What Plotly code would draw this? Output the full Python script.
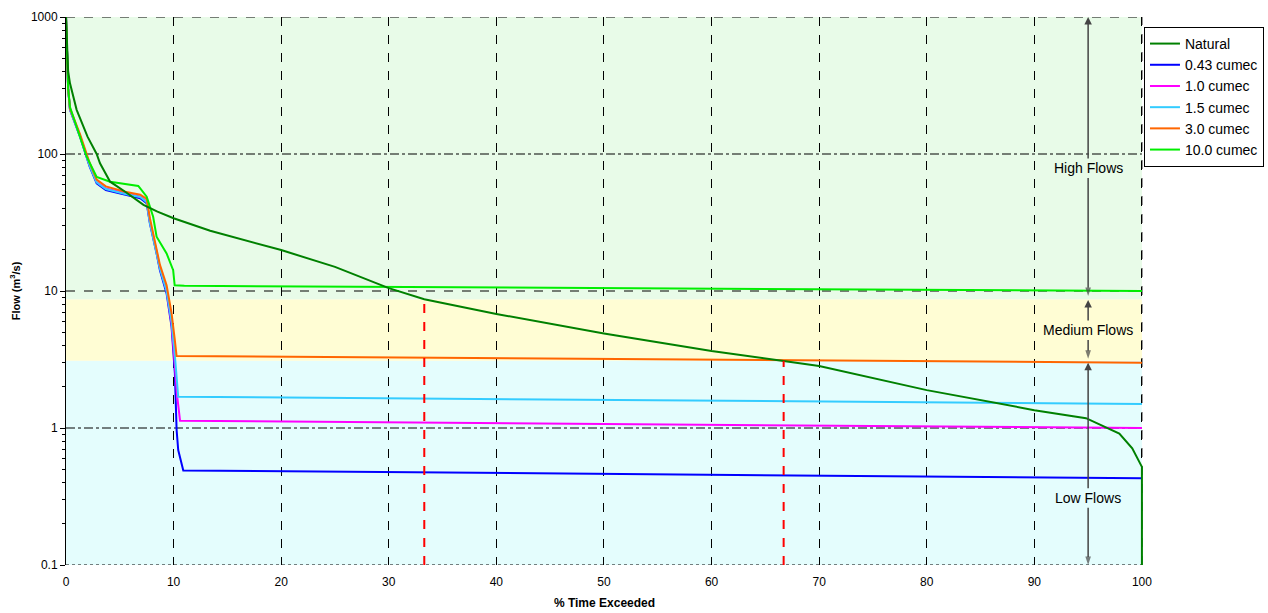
import numpy as np
import plotly.graph_objects as go

# ---------------- data ----------------
x_natural = [0, 0.2, 0.37, 0.99, 2.0, 2.85, 3.16, 4.1, 5.5, 7.2, 8.5, 10.0, 13.4, 20, 25, 30, 33.3,
             40, 50, 60, 66.7, 70, 80, 90, 94.8, 97.9, 99.1, 100, 100]
y_natural = [1000, 400, 328, 210, 134, 100, 85.5, 62.8, 53, 42.5, 38, 34, 27.5, 19.9, 15, 10.5, 8.7,
             6.8, 4.9, 3.65, 3.08, 2.84, 1.89, 1.35, 1.18, 0.91, 0.71, 0.52, 0.1]

x_043 = [0, 0.2, 0.37, 1.3, 2.2, 2.85, 3.7, 5.5, 6.9, 7.5, 7.8, 8.42, 8.73, 9.35, 9.81, 10.12, 10.28, 10.43, 10.9, 100]
y_043 = [1000, 300, 210, 134, 81, 61, 54.6, 50.2, 47.5, 43.7, 31, 18.8, 14.2, 9.6, 5.5, 2.5, 0.97, 0.69, 0.49, 0.43]

x_10 = [0, 0.2, 0.37, 1.3, 2.2, 2.85, 3.7, 5.5, 6.9, 7.5, 7.8, 8.42, 8.73, 9.35, 9.81, 10.1, 10.3, 10.6, 100]
y_10 = [1000, 300, 212, 136, 83, 62.5, 56, 51.5, 48.8, 45, 32, 19.4, 14.8, 10.1, 5.8, 3.0, 1.8, 1.13, 1.0]

x_15 = [0, 0.2, 0.37, 1.3, 2.2, 2.85, 3.7, 5.5, 6.9, 7.5, 7.8, 8.42, 8.73, 9.35, 9.81, 10.1, 10.43, 100]
y_15 = [1000, 300, 212, 135, 82, 62, 55.5, 51, 48.5, 44.5, 31.5, 19.2, 14.6, 10.0, 6.0, 3.5, 1.69, 1.5]

x_30 = [0, 0.2, 0.37, 1.3, 2.2, 2.85, 3.7, 5.5, 6.9, 7.5, 7.8, 8.42, 8.73, 9.35, 9.81, 10.1, 10.28, 100]
y_30 = [1000, 300, 215, 140, 86, 65, 58, 53, 50.5, 47, 34, 20.5, 15.5, 11, 6.9, 4.5, 3.35, 3.0]

x_100 = [0, 0.2, 0.37, 0.99, 1.92, 2.85, 4.1, 6.72, 7.5, 8.1, 8.42, 9.35, 9.96, 10.1, 11, 100]
y_100 = [1000, 300, 220, 158, 95.5, 68, 62.8, 58.4, 48.8, 34.8, 24.9, 18.8, 14.2, 11, 10.9, 10.0]

series_names = ["Natural", "0.43 cumec", "1.0 cumec", "1.5 cumec", "3.0 cumec", "10.0 cumec"]
series_colors = ["#008000", "#0000ff", "#ff00ff", "#33ccff", "#ff6600", "#00ee00"]

# reference (red) lines: x position and the flow they reach
red_x = [33.3, 66.7]
red_top = [8.7, 3.1]

# flow bands (lower edge, upper edge)
band_low = [0.1, 3.1, 8.7]
band_high = [3.1, 8.7, 1000]
band_colors = ["#e4fdfd", "#fffdd4", "#e8fbe8"]

# flow class labels with arrows
class_labels = ["High Flows", "Medium Flows", "Low Flows"]
class_label_y = [79, 5.2, 0.31]
class_top = [1000, 8.6, 3.0]
class_bottom = [9.2, 3.2, 0.1]
arrow_x = 95

x_ticks = list(range(0, 101, 10))
y_ticks = [0.1, 1, 10, 100, 1000]
y_ticktext = ["0.1", "1", "10", "100", "1000"]

FONT = "Arial, Liberation Sans, sans-serif"
W, H = 1268, 613
ML, MR, MT, MB = 66, 125, 17, 48
decade_px = (H - MT - MB) / 4.0
ARROW_COLOR = "#444444"

fig = go.Figure()

xs = [x_natural, x_043, x_10, x_15, x_30, x_100]
ys = [y_natural, y_043, y_10, y_15, y_30, y_100]
for i in [1, 2, 3, 4, 5, 0]:
    fig.add_trace(go.Scatter(x=xs[i], y=ys[i], mode="lines", name=series_names[i],
                             line=dict(color=series_colors[i], width=2),
                             legendrank=i + 1))

for rx, rt in zip(red_x, red_top):
    fig.add_trace(go.Scatter(x=[rx, rx], y=[0.1, rt], mode="lines", showlegend=False,
                             line=dict(color="#ff0000", width=2, dash="dash"), hoverinfo="skip"))

# lower halves of the class arrows (line from under the label down to the class boundary)
gap_dec = 10.0 / decade_px
for ly, bot in zip(class_label_y, class_bottom):
    start = 10 ** (np.log10(ly) - gap_dec)
    fig.add_trace(go.Scatter(x=[arrow_x, arrow_x], y=[start, bot], mode="lines+markers",
                             showlegend=False, hoverinfo="skip", cliponaxis=False,
                             line=dict(color=ARROW_COLOR, width=1.5),
                             marker=dict(symbol="arrow", angleref="previous", size=[0, 9],
                                         color=ARROW_COLOR, line=dict(width=0))))

shapes = []
for lo, hi, c in zip(band_low, band_high, band_colors):
    shapes.append(dict(type="rect", xref="x", yref="y", x0=0, x1=100, y0=lo, y1=hi,
                       fillcolor=c, line=dict(width=0), layer="below"))
for yv, d in zip([1000, 100, 10, 1, 0.1], ["dash", "dashdot", "dash", "dashdot", "dot"]):
    shapes.append(dict(type="line", xref="x", yref="y", x0=0, x1=100, y0=yv, y1=yv,
                       line=dict(color="black", width=1, dash=d), layer="below"))
shapes.append(dict(type="line", xref="x", yref="y", x0=100, x1=100, y0=0.1, y1=1000,
                   line=dict(color="black", width=1, dash="dash"), layer="below"))

annotations = []
for lab, ly, top in zip(class_labels, class_label_y, class_top):
    annotations.append(dict(x=arrow_x, y=np.log10(top), ax=arrow_x, ay=np.log10(ly),
                            xref="x", yref="y", axref="x", ayref="y",
                            text=lab, showarrow=True, arrowhead=2, arrowsize=1,
                            arrowwidth=1.5, arrowcolor=ARROW_COLOR, standoff=0,
                            font=dict(family=FONT, size=14, color="black")))

minor_vals = [m * 10.0 ** e for e in range(-1, 3) for m in range(2, 10)]

fig.update_layout(
    width=W, height=H,
    margin=dict(l=ML, r=MR, t=MT, b=MB, autoexpand=False),
    paper_bgcolor="white", plot_bgcolor="white",
    font=dict(family=FONT, size=12, color="black"),
    shapes=shapes, annotations=annotations,
    showlegend=True,
    legend=dict(x=1.0009, y=0.9818, xanchor="left", yanchor="top",
                bordercolor="black", borderwidth=1, bgcolor="white",
                font=dict(family=FONT, size=14), tracegroupgap=0,
                itemwidth=30),
    xaxis=dict(range=[0, 100.1], tickvals=x_ticks, showgrid=True, gridcolor="black",
               griddash="dash", gridwidth=1, zeroline=False, showline=False, automargin=False,
               ticks="", tickfont=dict(size=12), ticklabelstandoff=8,
               title=dict(text="<b>% Time Exceeded</b>", font=dict(size=12), standoff=10)),
    yaxis=dict(type="log", range=[-1, 3], tickvals=y_ticks, ticktext=y_ticktext,
               showgrid=False, zeroline=False, showline=True, linecolor="black", linewidth=1,
               automargin=False,
               ticks="outside", ticklen=5, tickcolor="black", tickfont=dict(size=12),
               minor=dict(tickvals=minor_vals, ticks="outside", ticklen=3, tickcolor="black",
                          showgrid=False),
               title=dict(text="<b>Flow (m<sup>3</sup>/s)</b>", font=dict(size=11), standoff=8)),
)

fig.write_html("out.html", config={"displayModeBar": False},
               post_script="document.body.style.margin='0';document.body.style.padding='0';"
                           "document.body.style.overflow='hidden';")
